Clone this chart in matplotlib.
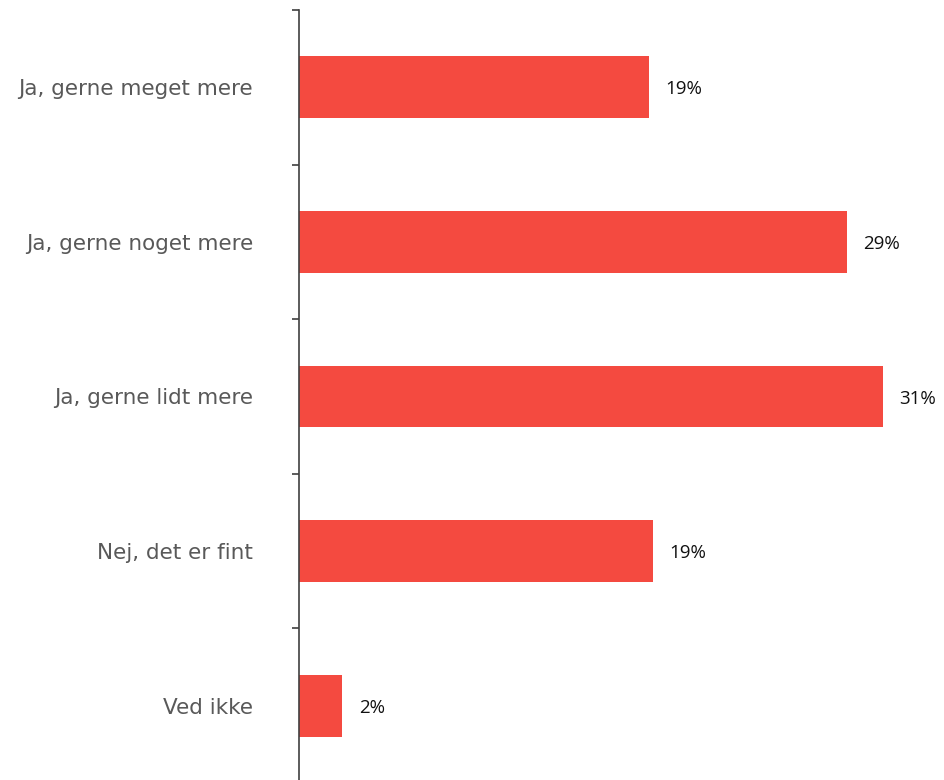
import numpy as np
from matplotlib import pyplot as plt

# answer categories, top to bottom, with shares in percent
categories = ["Ja, gerne meget mere", "Ja, gerne noget mere", "Ja, gerne lidt mere",
              "Nej, det er fint", "Ved ikke"]
shares = [18.6, 29.1, 31.0, 18.8, 2.3]
share_labels = ["19%", "29%", "31%", "19%", "2%"]

bar_color = "#F44A40"

fig = plt.figure(figsize=(9.44, 7.8), dpi=100)
ax = fig.add_axes([299 / 944, -3 / 780, 640 / 944, 773 / 780])

y = np.arange(len(categories))
ax.barh(y, shares, height=0.4, color=bar_color, edgecolor="none")
for yi, val, lab in zip(y, shares, share_labels):
    ax.annotate(lab, (val, yi), xytext=(12, 0), textcoords="offset points",
                va="center_baseline", ha="left", fontsize=13.5, family="Open Sans",
                color="#111111")

ax.set_xlim(0, 34)
ax.set_ylim(len(categories) - 0.5, -0.5)

# category names as major labels, short ticks on the category boundaries
ax.set_yticks(y)
ax.set_yticklabels(categories, fontsize=15.5, color="#595959", family="DejaVu Sans")
ax.tick_params(axis="y", which="major", length=0, pad=33)
ax.set_yticks(np.arange(len(categories) + 1) - 0.5, minor=True)
ax.tick_params(axis="y", which="minor", length=5, width=1.2, color="#404040")
ax.set_xticks([])

for side in ["top", "right", "bottom"]:
    ax.spines[side].set_visible(False)
ax.spines["left"].set_color("#404040")
ax.spines["left"].set_linewidth(1.2)

fig.savefig("out.png", dpi=100)
